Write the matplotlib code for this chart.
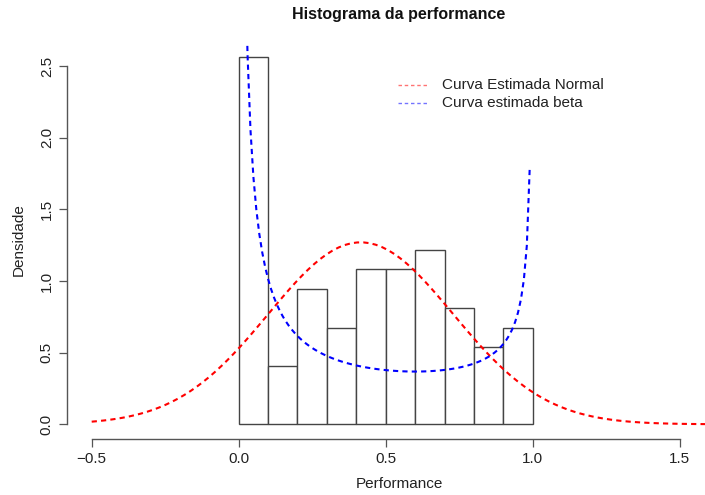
import math
import numpy as np
import matplotlib
matplotlib.use("Agg")
import matplotlib.pyplot as plt
from matplotlib.lines import Line2D

plt.rcParams['font.family'] = ['Liberation Sans', 'DejaVu Sans']

# ---- data ----
breaks = [0.0, 0.1, 0.2, 0.3, 0.4, 0.5, 0.6, 0.7, 0.8, 0.9, 1.0]
counts = [19, 3, 7, 5, 8, 8, 9, 6, 4, 5]
normal_mean = 0.415
normal_sd = 0.314
beta_a = 0.19
beta_b = 0.46
x_ticks = [-0.5, 0.0, 0.5, 1.0, 1.5]
y_ticks = [0.0, 0.5, 1.0, 1.5, 2.0, 2.5]
title = "Histograma da performance"
xlabel = "Performance"
ylabel = "Densidade"
legend_labels = ["Curva Estimada Normal", "Curva estimada beta"]

# ---- derived ----
n = sum(counts)
widths = np.diff(breaks)
density = np.array(counts) / (n * widths)

xn = np.linspace(-0.5, 1.6, 101)
yn = np.exp(-0.5 * ((xn - normal_mean) / normal_sd) ** 2) / (normal_sd * math.sqrt(2 * math.pi))
xb = np.linspace(0.0, 1.0, 101)[1:-1]
B = math.gamma(beta_a) * math.gamma(beta_b) / math.gamma(beta_a + beta_b)
yb = xb ** (beta_a - 1) * (1 - xb) ** (beta_b - 1) / B

W, H = 705, 495
fig = plt.figure(figsize=(W / 100, H / 100), dpi=100)
xlim = (-0.584, 1.684)
ylim = (-0.1028, 2.6728)
left, right, top, bottom = 67, 733.8, 41.5, 439
ax = fig.add_axes([left / W, (H - bottom) / H, (right - left) / W, (bottom - top) / H])
ax.set_xlim(*xlim)
ax.set_ylim(*ylim)

ax.bar(breaks[:-1], density, width=widths, align='edge', color='white',
       edgecolor='#444444', linewidth=1.0, zorder=2)

ax.plot(xn, yn, color='#ff0000', lw=1.5, linestyle=(0, (2.5, 2.0)), zorder=3)
ax.plot(xb, yb, color='#0000ff', lw=1.5, linestyle=(0, (2.5, 2.0)), zorder=3)

for s in ['top', 'right']:
    ax.spines[s].set_visible(False)
ax.spines['left'].set_bounds(y_ticks[0], y_ticks[-1])
ax.spines['bottom'].set_bounds(x_ticks[0], x_ticks[-1])
for s in ['left', 'bottom']:
    ax.spines[s].set_color('#555555')
    ax.spines[s].set_linewidth(1.0)

ax.set_xticks(x_ticks)
ax.set_xticklabels([f"{v:.1f}".replace('-', '\u2212') for v in x_ticks])
ax.set_yticks(y_ticks)
ax.set_yticklabels([f"{v:.1f}" for v in y_ticks], rotation=90, va='center')
ax.tick_params(axis='both', direction='out', length=5.5, width=0.9, color='#555555',
               labelsize=11, labelcolor='#222222')
ax.tick_params(axis='x', pad=4)
ax.tick_params(axis='y', pad=4)

fig.text(399.5 / W, 1 - 484 / H, xlabel, ha='center', va='center', fontsize=11, color='#222222')
fig.text(19 / W, 1 - 240 / H, ylabel, ha='center', va='center', rotation=90, fontsize=11, color='#222222')
fig.text(399 / W, 1 - 15 / H, title, ha='center', va='center', fontsize=11.5,
         fontweight='bold', color='#111111')

# legend (no box)
leg_colors = ['#ff0000', '#0000ff']
leg_y = [85, 103]
for lab, c, yy in zip(legend_labels, leg_colors, leg_y):
    fig.add_artist(Line2D([398 / W, 428 / W], [1 - yy / H, 1 - yy / H], color=c, lw=1.0,
                          linestyle=(0, (2.5, 2.0)), alpha=0.55, transform=fig.transFigure))
    fig.text(442 / W, 1 - yy / H, lab, ha='left', va='center', fontsize=11, color='#222222')

fig.savefig("out.png", dpi=100)
